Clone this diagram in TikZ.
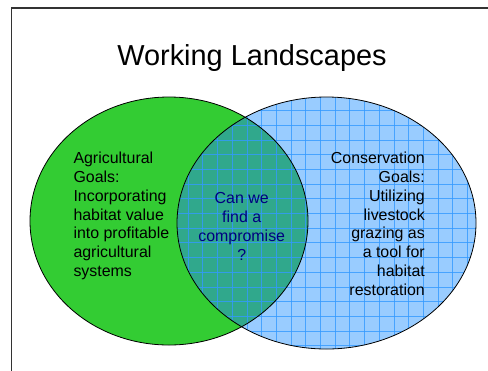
\documentclass[tikz,border=0pt]{standalone}
\usepackage{fontspec}
\setmainfont{Liberation Sans}
\definecolor{leafgreen}{HTML}{33CC33}
\definecolor{skyblue}{HTML}{99CCFF}
\definecolor{gridblue}{HTML}{3399FF}
\definecolor{overlapteal}{HTML}{30A88C}
\definecolor{textnavy}{HTML}{000080}

\begin{document}
\begin{tikzpicture}[x=1bp, y=-1bp,
	goals/.style={inner sep=0pt, font=\fontsize{16}{19}\selectfont},
	rim/.style={draw=black, line width=0.8bp},
	gridline/.style={gridblue, line width=0.5bp, opacity=0.8}]
\useasboundingbox (0,0) rectangle (488,370);
% slide frame
\draw[line width=1.3bp, black!80] (11.5,375) -- (11.5,8) -- (495,8);
\node[anchor=base, font=\fontsize{29}{34}\selectfont] (title) at (252,65) {Working Landscapes};

% conservation circle with its grid
\fill[skyblue] (326.5,223) ellipse (149.5 and 126);
\fill[leafgreen] (169,221) ellipse (139 and 124);
\begin{scope}
	\clip (169,221) ellipse (139 and 124);
	\fill[overlapteal] (326.5,223) ellipse (149.5 and 126);
\end{scope}
\begin{scope}
	\clip (326.5,223) ellipse (149.5 and 126);
	\foreach \k in {0,...,21}
		\draw[gridline] (173.3+14.7*\k,90) -- ++(0,270);
	\foreach \k in {0,...,17}
		\draw[gridline] (170,345.6-14.7*\k) -- ++(320,0);
\end{scope}
\draw[rim] (169,221) ellipse (139 and 124);
\draw[rim] (326.5,223) ellipse (149.5 and 126);

% texts
\node[goals, anchor=north west, align=left] (agri) at (73.3,151.5)
	{Agricultural\\Goals:\\Incorporating\\habitat value\\into profitable\\agricultural\\systems};
\node[goals, anchor=north, align=center, text=textnavy] (ask) at (241.7,192.5)
	{Can we\\find a\\compromise\\?};
\node[goals, anchor=north east, align=right] (cons) at (425,151.5)
	{Conservation\\Goals:\\Utilizing\\livestock\\grazing as\\a tool for\\habitat\\restoration};
\end{tikzpicture}
\end{document}
